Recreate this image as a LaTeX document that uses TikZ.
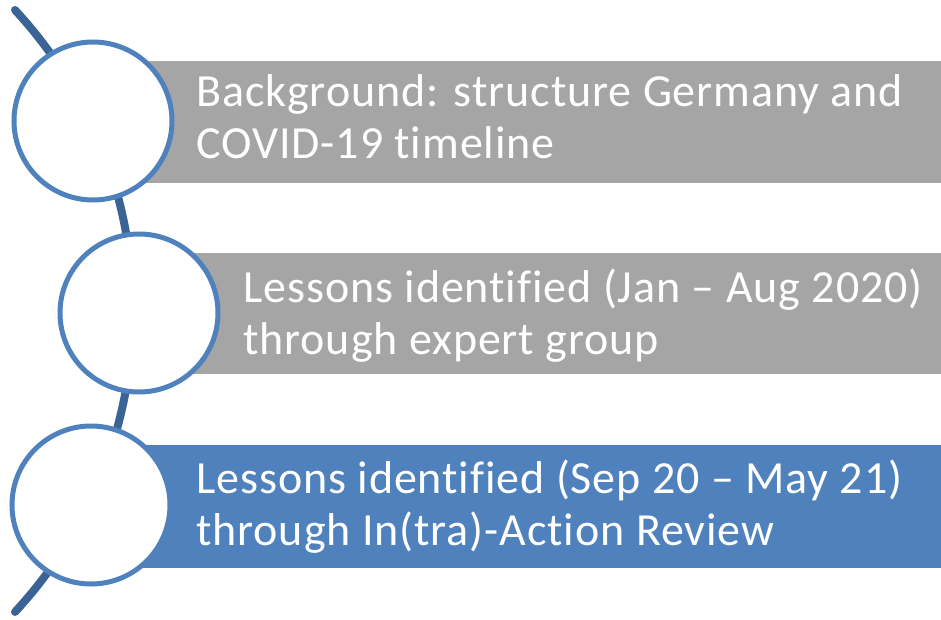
\documentclass[tikz,border=0pt]{standalone}
\usepackage{fontspec}
\setmainfont{Carlito}[Ligatures=NoCommon, LetterSpace=2]
\definecolor{boxgray}{HTML}{A5A5A5}
\definecolor{boxblue}{HTML}{4F81BD}
\definecolor{ringblue}{HTML}{4F81BD}
\definecolor{arcblue}{HTML}{3B6496}
\tikzset{
  stepbox/.style={draw=none, rectangle, inner sep=0pt, anchor=north west},
  ring/.style={circle, draw=ringblue, line width=5pt, fill=white, minimum size=158pt, inner sep=0pt},
  steptext/.style={anchor=base west, inner sep=0pt, align=left, text=white,
    font=\fontsize{46}{52}\selectfont},
  spine/.style={draw=arcblue, line width=8pt, line cap=round}
}
\begin{document}
\begin{tikzpicture}[x=1pt, y=-1pt]
\useasboundingbox (0,0) rectangle (941,620);
% spine arc
\coordinate (arcstart) at (15,10);
\draw[spine] (arcstart) arc[start angle=-42.8, end angle=42.8, radius=443];
% boxes
\node[stepbox, fill=boxgray, minimum width=811pt, minimum height=122pt] (b1) at (130,60.5) {};
\node[stepbox, fill=boxgray, minimum width=761pt, minimum height=121pt] (b2) at (180,253) {};
\node[stepbox, fill=boxblue, minimum width=811pt, minimum height=123pt] (b3) at (130,444.5) {};
% circles
\node[ring] (c1) at (93,121) {};
\node[ring] (c2) at (139,313) {};
\node[ring] (c3) at (91,505) {};
% texts (base anchor = baseline of last line)
\node[steptext] (t1) at (196,159) {Background: structure Germany and\\COVID-19 timeline};
\node[steptext] (t2) at (243,354) {Lessons identified (Jan -- Aug 2020)\\through expert group};
\node[steptext] (t3) at (196,545) {Lessons identified (Sep 20 -- May 21)\\through In(tra)-Action Review};
\end{tikzpicture}
\end{document}
